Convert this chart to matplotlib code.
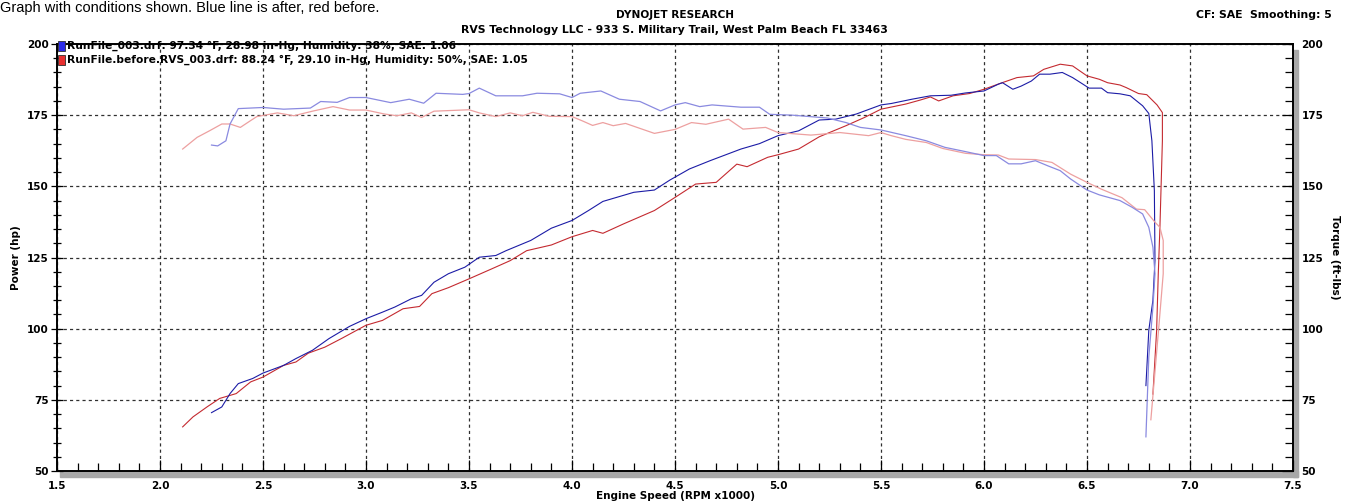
import numpy as np
import matplotlib
matplotlib.use("Agg")
import matplotlib.pyplot as plt
from matplotlib.patches import Rectangle
from matplotlib.ticker import MultipleLocator

# after run (blue)
after_hp_rpm = [2.25, 2.30, 2.34, 2.38, 2.45, 2.50, 2.60, 2.66, 2.74, 2.82, 2.92, 3.00, 3.08, 3.14,
                3.22, 3.27, 3.33, 3.40, 3.48, 3.55, 3.63, 3.68, 3.80, 3.90, 4.00, 4.08, 4.15, 4.30,
                4.40, 4.475, 4.57, 4.67, 4.82, 4.91, 5.00, 5.10, 5.20, 5.28, 5.38, 5.50, 5.55, 5.65,
                5.74, 5.84, 5.91, 6.00, 6.07, 6.09, 6.14, 6.18, 6.23, 6.27, 6.32, 6.38, 6.43, 6.48,
                6.51, 6.57, 6.60, 6.66, 6.71, 6.77, 6.80, 6.815, 6.827, 6.83, 6.82, 6.80, 6.786]
after_hp = [70.5, 72.5, 77.2, 80.7, 82.5, 84.4, 87.1, 89.5, 92.4, 96.5, 100.8, 103.5, 105.8, 107.6,
            110.5, 111.7, 116.3, 119.3, 121.6, 125.1, 125.7, 127.4, 131.0, 135.3, 138.0, 141.5, 144.7, 147.9,
            148.7, 152.2, 156.1, 159.0, 163.1, 165.0, 167.8, 169.5, 173.3, 173.6, 175.4, 178.6, 179.1, 180.6,
            181.8, 182.0, 182.8, 183.5, 185.9, 186.4, 184.1, 185.2, 187.0, 189.4, 189.4, 190.0, 188.2, 185.9,
            184.5, 184.5, 182.9, 182.5, 181.8, 178.3, 175.6, 166.0, 148.5, 124.0, 110.0, 99.4, 80.0]

after_tq_rpm = [2.25, 2.28, 2.32, 2.34, 2.38, 2.50, 2.60, 2.73, 2.78, 2.86, 2.92, 3.00, 3.12, 3.21,
                3.28, 3.34, 3.47, 3.50, 3.55, 3.63, 3.76, 3.83, 3.94, 4.00, 4.04, 4.14, 4.23, 4.33,
                4.43, 4.50, 4.55, 4.62, 4.68, 4.82, 4.91, 4.96, 5.07, 5.24, 5.33, 5.40, 5.50, 5.62,
                5.72, 5.81, 5.91, 6.00, 6.06, 6.12, 6.18, 6.25, 6.31, 6.37, 6.42, 6.50, 6.56, 6.66,
                6.72, 6.77, 6.80, 6.82, 6.83, 6.82, 6.80, 6.786]
after_tq = [164.5, 164.2, 166.0, 171.9, 177.3, 177.7, 177.1, 177.5, 179.8, 179.5, 181.2, 181.2, 179.4, 180.6,
            179.2, 182.7, 182.3, 182.6, 184.5, 181.8, 181.8, 182.7, 182.5, 181.2, 182.7, 183.5, 180.6, 179.8,
            176.5, 178.6, 179.4, 178.0, 178.6, 177.8, 177.8, 175.3, 175.0, 174.0, 172.4, 170.7, 169.8, 167.8,
            166.0, 163.7, 162.2, 160.8, 160.8, 157.9, 157.9, 159.0, 157.2, 155.5, 152.6, 148.7, 147.0, 145.0,
            142.6, 140.3, 135.6, 128.6, 119.3, 107.6, 90.0, 62.0]

# before run (red)
before_hp_rpm = [2.11, 2.16, 2.23, 2.29, 2.37, 2.44, 2.50, 2.60, 2.66, 2.72, 2.80, 2.88, 3.00, 3.08,
                 3.18, 3.26, 3.32, 3.40, 3.50, 3.61, 3.70, 3.78, 3.90, 4.00, 4.10, 4.15, 4.25, 4.40,
                 4.50, 4.60, 4.70, 4.80, 4.85, 4.95, 5.00, 5.10, 5.20, 5.33, 5.42, 5.50, 5.62, 5.69,
                 5.74, 5.78, 5.85, 5.93, 6.00, 6.08, 6.16, 6.24, 6.29, 6.37, 6.43, 6.50, 6.56, 6.60,
                 6.66, 6.69, 6.75, 6.79, 6.84, 6.866, 6.866, 6.86, 6.854, 6.846, 6.838, 6.82]
before_hp = [65.5, 69.0, 72.6, 75.5, 77.2, 81.3, 83.0, 87.1, 88.3, 91.4, 93.5, 96.5, 101.2, 102.9,
             107.0, 107.8, 112.3, 114.4, 117.5, 121.0, 123.9, 127.4, 129.4, 132.3, 134.5, 133.5, 136.8, 141.5,
             146.1, 150.8, 151.4, 157.8, 156.9, 160.2, 161.1, 163.1, 167.4, 171.3, 174.2, 177.1, 178.9, 180.3,
             181.4, 180.0, 181.8, 182.6, 184.1, 186.2, 188.2, 188.8, 191.1, 192.9, 192.3, 188.8, 187.6, 186.4,
             185.6, 184.7, 182.6, 182.2, 178.6, 175.9, 166.0, 150.8, 135.6, 119.3, 99.4, 77.0]

before_tq_rpm = [2.11, 2.18, 2.24, 2.30, 2.34, 2.39, 2.44, 2.47, 2.57, 2.65, 2.74, 2.84, 2.92, 3.00,
                 3.09, 3.15, 3.22, 3.27, 3.33, 3.50, 3.55, 3.63, 3.70, 3.76, 3.81, 3.89, 4.00, 4.05,
                 4.10, 4.15, 4.20, 4.26, 4.40, 4.50, 4.58, 4.65, 4.76, 4.83, 4.94, 5.00, 5.16, 5.30,
                 5.44, 5.50, 5.55, 5.62, 5.72, 5.80, 5.91, 6.00, 6.07, 6.12, 6.25, 6.33, 6.42, 6.50,
                 6.57, 6.67, 6.74, 6.78, 6.83, 6.854, 6.87, 6.87, 6.85, 6.81]
before_tq = [163.1, 167.2, 169.5, 171.9, 171.9, 170.7, 173.1, 174.5, 175.8, 174.8, 176.4, 178.0, 176.8, 176.8,
             175.4, 174.8, 175.8, 174.2, 176.4, 176.9, 175.8, 174.5, 175.8, 174.8, 176.0, 174.6, 174.5, 173.0,
             171.4, 172.4, 171.3, 172.1, 168.6, 170.0, 172.4, 171.8, 173.6, 170.1, 170.7, 168.9, 168.0, 168.9,
             167.8, 168.9, 167.8, 166.5, 165.4, 163.3, 161.6, 161.1, 161.0, 159.6, 159.4, 158.4, 154.3, 151.4,
             149.0, 146.0, 142.0, 141.8, 137.4, 135.6, 131.0, 119.3, 101.8, 68.0]

legend_lines = ["RunFile_003.drf: 97.34 \u00b0F, 28.98 in-Hg, Humidity: 38%, SAE: 1.06",
                "RunFile.before.RVS_003.drf: 88.24 \u00b0F, 29.10 in-Hg, Humidity: 50%, SAE: 1.05"]

W, H = 1347, 504
fig = plt.figure(figsize=(W / 100, H / 100), dpi=100)
L, R, T, B = 57, 1293, 44, 471
ax = fig.add_axes([L / W, 1 - B / H, (R - L) / W, (B - T) / H])
ax2 = ax.twinx()

ax.plot(after_hp_rpm, after_hp, color="#1c1ca6", lw=0.8, zorder=4)
ax.plot(before_hp_rpm, before_hp, color="#c42a30", lw=0.8, zorder=3)
ax2.plot(after_tq_rpm, after_tq, color="#8a8ae0", lw=0.9, zorder=4)
ax2.plot(before_tq_rpm, before_tq, color="#eda0a0", lw=0.9, zorder=3)

for a in (ax, ax2):
    a.set_xlim(1.5, 7.5)
    a.set_ylim(50, 200)
    a.yaxis.set_major_locator(MultipleLocator(25))
    a.yaxis.set_minor_locator(MultipleLocator(5))
ax.xaxis.set_major_locator(MultipleLocator(0.5))
ax.xaxis.set_minor_locator(MultipleLocator(0.1))
ax.xaxis.set_major_formatter(matplotlib.ticker.FormatStrFormatter("%.1f"))

ax.grid(which="major", linestyle=(0, (2.5, 2.5)), color="#303030", lw=0.9)
ax.tick_params(which="major", direction="inout", length=8, width=0.9, labelsize=7.5, pad=2)
ax.tick_params(which="minor", direction="inout", length=6, width=0.9)
ax.tick_params(axis="x", which="both", direction="in", pad=7)
ax2.tick_params(which="major", direction="in", length=8, width=0.9, labelsize=7.5, pad=6)
ax2.tick_params(which="minor", direction="in", length=6, width=0.9)
for lab in ax.get_xticklabels() + ax.get_yticklabels() + ax2.get_yticklabels():
    lab.set_fontweight("bold")
for s in ax.spines.values():
    s.set_linewidth(1.2)
for s in ax2.spines.values():
    s.set_linewidth(1.2)

ax.set_ylabel("Power (hp)", fontsize=7.5, fontweight="bold", labelpad=4)
ax2.set_ylabel("Torque (ft-lbs)", fontsize=7.5, fontweight="bold", rotation=-90, labelpad=12)
ax.set_xlabel("Engine Speed (RPM x1000)", fontsize=7.5, fontweight="bold", labelpad=0)

# drop shadow of the plot box
fig.add_artist(Rectangle((1293 / W, 1 - 477 / H), 5 / W, 427 / H, transform=fig.transFigure,
                         color="#a8a8a8", zorder=-1))
fig.add_artist(Rectangle((60 / W, 1 - 477 / H), 1238 / W, 6 / H, transform=fig.transFigure,
                         color="#a8a8a8", zorder=-1))

# header texts
fig.text(0, 1 - 1 / H, "Graph with conditions shown. Blue line is after, red before.",
         fontsize=10.5, family="Liberation Sans", va="top", ha="left")
fig.text(675 / W, 1 - 15 / H, "DYNOJET RESEARCH", fontsize=7.6, fontweight="bold", ha="center", va="center")
fig.text(674 / W, 1 - 30 / H, "RVS Technology LLC - 933 S. Military Trail, West Palm Beach FL 33463",
         fontsize=7.8, fontweight="bold", ha="center", va="center")
fig.text(1332 / W, 1 - 15 / H, "CF: SAE  Smoothing: 5", fontsize=7.8, fontweight="bold", ha="right", va="center")

# run legend
for i, (txt, col) in enumerate(zip(legend_lines, ["#2a2ae8", "#e83030"])):
    yc = 46 + 14 * i
    fig.add_artist(Rectangle((58 / W, 1 - (yc + 5) / H), 7 / W, 10 / H, transform=fig.transFigure,
                             facecolor=col, edgecolor="#303030", lw=0.6, zorder=5))
    fig.text(67 / W, 1 - yc / H, txt, fontsize=7.7, fontweight="bold", ha="left", va="center", zorder=5)

fig.savefig("out.png", dpi=100)
